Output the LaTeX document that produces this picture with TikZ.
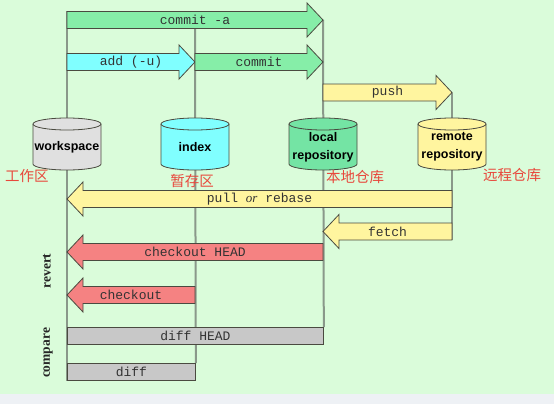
\documentclass[tikz,border=0pt]{standalone}
\usepackage{fontspec}
\setmainfont{Liberation Serif}
\newfontfamily\cmdfont{Liberation Mono}
\newfontfamily\dbfont{Liberation Sans}
\newfontfamily\cjk{Noto Sans CJK SC}
\usetikzlibrary{calc,backgrounds}
\definecolor{bggreen}{HTML}{DAFCDA}
\definecolor{bgstrip}{HTML}{EEF1F5}
\definecolor{wiregray}{HTML}{8A988A}
\definecolor{edgegray}{HTML}{4A4A40}
\definecolor{cmtgreen}{HTML}{86EEA8}
\definecolor{addcyan}{HTML}{80FFFF}
\definecolor{remyellow}{HTML}{FFF59F}
\definecolor{revred}{HTML}{F58282}
\definecolor{cmpgray}{HTML}{C8C8C8}
\definecolor{wsgray}{HTML}{E0E0E0}
\definecolor{locgreen}{HTML}{74E4A4}
\definecolor{cnred}{HTML}{E8483C}
\tikzset{
    %Define style for the column lines
    wire/.style={draw=wiregray, line width=2pt},
    %Define style for fat arrows, boxes and stores
    fat/.style={draw=edgegray, line width=0.8pt, line join=miter},
    cmd/.style={font=\cmdfont\fontsize{13}{13}\selectfont, text=black!80, inner sep=0pt},
    cmdbox/.style={fat, cmd, anchor=west, minimum height=17pt},
    dbtext/.style={font=\dbfont\bfseries\fontsize{12.5}{18}\selectfont, align=center, inner sep=0pt},
    % Define label styles
    cntext/.style={font=\cjk\fontsize{14.5}{14.5}\selectfont, text=cnred, inner sep=0pt},
    side/.style={font=\bfseries\fontsize{13.5}{13.5}\selectfont, rotate=90, inner sep=0pt, text=black!85}
}
% fat arrow: name, fill, from, to, y, label
\newcommand\fatarrow[6]{%
  \path (#3 |- 0,#5) coordinate (#1-tail) (#4 |- 0,#5) coordinate (#1-tip);
  \draw[fat, fill=#2] let \p1=(#1-tail), \p2=(#1-tip), \n1={16*sign(\x2-\x1)} in
    (\x1,\y1+8.5) -- (\x2-\n1,\y1+8.5) -- (\x2-\n1,\y1+17) -- (\x2,\y1)
    -- (\x2-\n1,\y1-17) -- (\x2-\n1,\y1-8.5) -- (\x1,\y1-8.5) -- cycle
    node[cmd] (#1) at ({(\x1+\x2)/2},\y1) {#6};
}
% store: name, x, fill, label
\newcommand\store[4]{%
  \begin{scope}[shift={(#2,-144)}]
    \filldraw[fat, fill=#3] (-34,20) -- (-34,-20)
      arc[start angle=180, end angle=360, x radius=34pt, y radius=6pt] -- (34,20)
      arc[start angle=0, end angle=180, x radius=34pt, y radius=6pt] -- cycle;
    \draw[fat] (-34,20) arc[start angle=180, end angle=360, x radius=34pt, y radius=6pt];
    \node[dbtext] (#1) at (0,-3) {#4};
  \end{scope}
}
\begin{document}
\begin{tikzpicture}[x=1pt, y=1pt]
  \useasboundingbox (0,0) rectangle (554,-404);
  %stores
  \store{work}{67}{wsgray}{workspace}
  \store{index}{195}{addcyan}{index}
  \store{local}{323}{locgreen}{local\\repository}
  \store{remote}{452}{remyellow}{remote\\repository}
  \node[cntext] (cnwork) at (27,-176) {工作区};
  \node[cntext] (cnindex) at (192,-181) {暂存区};
  \node[cntext] (cnlocal) at (355,-177) {本地仓库};
  \node[cntext] (cnremote) at (512,-175) {远程仓库};
  %arrows
  \fatarrow{commita}{cmtgreen}{work}{local}{-20}{commit -a}
  \fatarrow{add}{addcyan}{work}{index}{-62}{add (-u)}
  \fatarrow{commit}{cmtgreen}{index}{local}{-62}{commit}
  \fatarrow{push}{remyellow}{local}{remote}{-92.5}{push}
  \fatarrow{pull}{remyellow}{remote}{work}{-199}{pull {\rmfamily\itshape or} rebase}
  \fatarrow{fetch}{remyellow}{remote}{local}{-231.5}{fetch}
  \fatarrow{cohead}{revred}{local}{work}{-252}{checkout HEAD}
  \fatarrow{co}{revred}{index}{work}{-295}{checkout}
  \node[cmdbox, fill=cmpgray, minimum width=256pt] (diffhead) at (work |- 0,-336) {diff HEAD};
  \node[cmdbox, fill=cmpgray, minimum width=128pt] (diff) at (work |- 0,-372) {diff};
  \node[side] (revert) at (47,-271) {revert};
  \node[side] (compare) at (48,-353) {compare};
  %columns
  \begin{pgfonlayer}{background}
    \fill[bggreen] (0,0) rectangle (554,-394);
    \fill[bgstrip] (0,-394) rectangle (554,-404);
    \draw[wire] ([yshift=8.5pt]commita-tail) -- (diff.south west);
    \draw[wire] (index |- 0,-28) -- (diff.north east);
    \draw[wire] (commita-tip) -- (diffhead.north east);
    \draw[wire] (push-tip) -- ([yshift=-8.5pt]fetch-tail);
  \end{pgfonlayer}
\end{tikzpicture}
\end{document}
